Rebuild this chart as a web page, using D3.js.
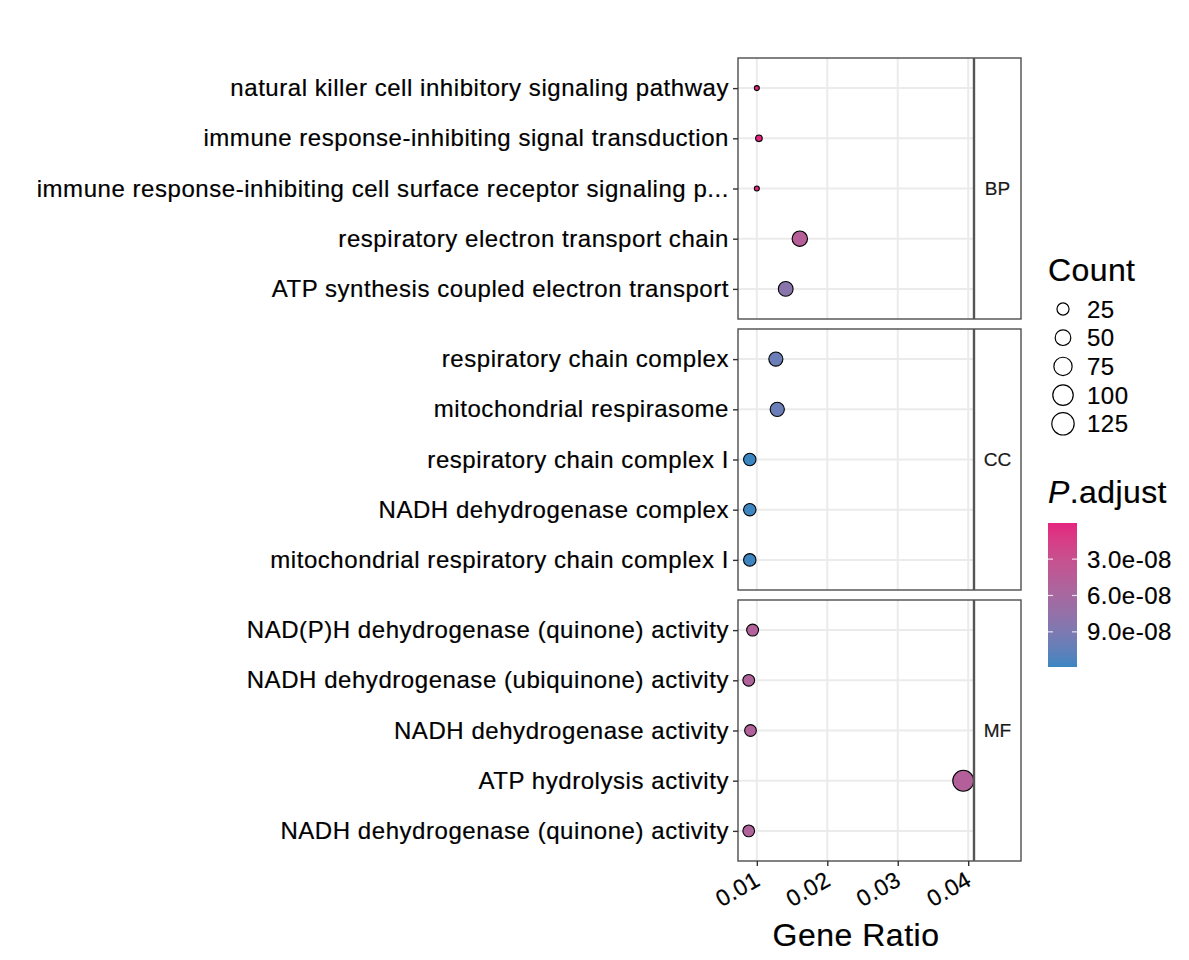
<!DOCTYPE html>
<html>
<head>
<meta charset="utf-8">
<script src="https://cdn.jsdelivr.net/npm/d3@7"></script>
<style>
  body { margin: 0; background: #fff; }
  svg, svg text { font-family: "Liberation Sans", Arial, sans-serif; }
  svg text { stroke: currentColor; stroke-width: 0.2px; }
</style>
</head>
<body>
<svg id="chart" width="1189" height="960"></svg>
<script>
// GO terms, top to bottom within each ontology panel
const ontologies = ['BP', 'CC', 'MF'];
const terms = [
  'natural killer cell inhibitory signaling pathway',
  'immune response-inhibiting signal transduction',
  'immune response-inhibiting cell surface receptor signaling p...',
  'respiratory electron transport chain',
  'ATP synthesis coupled electron transport',
  'respiratory chain complex',
  'mitochondrial respirasome',
  'respiratory chain complex I',
  'NADH dehydrogenase complex',
  'mitochondrial respiratory chain complex I',
  'NAD(P)H dehydrogenase (quinone) activity',
  'NADH dehydrogenase (ubiquinone) activity',
  'NADH dehydrogenase activity',
  'ATP hydrolysis activity',
  'NADH dehydrogenase (quinone) activity'
];
const termOntology = ['BP','BP','BP','BP','BP','CC','CC','CC','CC','CC','MF','MF','MF','MF','MF'];
const geneRatio = [0.0100, 0.0103, 0.0100, 0.0161, 0.0141,
                   0.0127, 0.0129, 0.0090, 0.0090, 0.0090,
                   0.0094, 0.00885, 0.0091, 0.0393, 0.00885];
const counts = [5, 6, 5, 48, 43,
                38, 39, 27, 27, 27,
                24, 23, 23, 107, 23];
const pAdjust = [3e-10, 6e-10, 2e-10, 4.6e-8, 8.2e-8,
                 1.0e-7, 1.0e-7, 1.19e-7, 1.18e-7, 1.18e-7,
                 5.0e-8, 5.2e-8, 5.1e-8, 4.9e-8, 5.2e-8];

const xTicks = [0.01, 0.02, 0.03, 0.04];
const countBreaks = [25, 50, 75, 100, 125];
const pTicks = [3e-8, 6e-8, 9e-8];

const rows = terms.map((t, i) => ({
  term: t, ont: termOntology[i], ratio: geneRatio[i], count: counts[i], p: pAdjust[i]
}));

const svg = d3.select('#chart');
const FONT = '"Liberation Sans", Arial, sans-serif';

// layout
const panelLeft = 738, panelRight = 974, stripRight = 1021;
const panelTop = 58, panelH = 261, panelGap = 10;

// scales
const xExt = d3.extent(geneRatio);
const xPad = (xExt[1] - xExt[0]) * 0.05;
const x = d3.scaleLinear().domain([xExt[0] - xPad, xExt[1] + xPad]).range([panelLeft, panelRight]);

const cMin = d3.min(counts), cMax = d3.max(counts);
const rBase = d3.scaleSqrt().domain([0, cMax - cMin]).range([3, 11]);
const r = c => rBase(c - cMin);

const color = d3.scaleLinear()
  .domain(d3.extent(pAdjust))
  .range(['#E4237F', '#3A86C2'])
  .interpolate(d3.interpolateLab);

ontologies.forEach((ont, k) => {
  const top = panelTop + k * (panelH + panelGap);
  const data = rows.filter(d => d.ont === ont);
  const y = d3.scalePoint().domain(data.map(d => d.term)).range([top, top + panelH]).padding(0.6);
  const g = svg.append('g');

  // grid
  g.selectAll('.vgrid').data(xTicks).enter().append('line')
    .attr('x1', d => x(d)).attr('x2', d => x(d))
    .attr('y1', top).attr('y2', top + panelH)
    .attr('stroke', '#EBEBEB').attr('stroke-width', 2);
  g.selectAll('.hgrid').data(data).enter().append('line')
    .attr('x1', panelLeft).attr('x2', panelRight)
    .attr('y1', d => y(d.term)).attr('y2', d => y(d.term))
    .attr('stroke', '#EBEBEB').attr('stroke-width', 2);

  // points
  g.selectAll('.pt').data(data).enter().append('circle')
    .attr('cx', d => x(d.ratio)).attr('cy', d => y(d.term))
    .attr('r', d => r(d.count) - 0.5)
    .attr('fill', d => color(d.p))
    .attr('stroke', '#000').attr('stroke-width', 1.1);

  // panel + strip borders
  g.append('rect').attr('x', panelLeft).attr('y', top)
    .attr('width', stripRight - panelLeft).attr('height', panelH)
    .attr('fill', 'none').attr('stroke', '#4D4D4D').attr('stroke-width', 1.4);
  g.append('line').attr('x1', panelRight).attr('x2', panelRight)
    .attr('y1', top).attr('y2', top + panelH)
    .attr('stroke', '#555').attr('stroke-width', 2.4);
  g.append('text').attr('x', (panelRight + stripRight) / 2).attr('y', top + panelH / 2)
    .attr('text-anchor', 'middle').attr('dominant-baseline', 'central')
    .attr('font-size', 19).attr('fill', '#1A1A1A').style('color', '#1A1A1A').text(ont);

  // y axis
  const yAxis = d3.axisLeft(y).tickSize(5).tickPadding(4);
  const ya = g.append('g').attr('transform', `translate(${panelLeft},0)`).call(yAxis)
    .attr('font-family', FONT);
  ya.select('.domain').remove();
  ya.selectAll('line').attr('stroke', '#333').attr('stroke-width', 1.4);
  ya.selectAll('text').attr('font-size', 24).attr('letter-spacing', 0.55)
    .attr('fill', '#000').style('color', '#000');

  if (k === ontologies.length - 1) {
    const xAxis = d3.axisBottom(x).tickValues(xTicks).tickSize(5).tickFormat(d3.format('.2f'));
    const xa = g.append('g').attr('transform', `translate(0,${top + panelH})`).call(xAxis)
      .attr('font-family', FONT);
    xa.select('.domain').remove();
    xa.selectAll('line').attr('stroke', '#333').attr('stroke-width', 1.4);
    xa.selectAll('text')
      .attr('font-size', 23).attr('letter-spacing', 0.4)
      .attr('fill', '#000').style('color', '#000')
      .attr('text-anchor', 'end')
      .attr('transform', 'translate(-4,9) rotate(-30)')
      .attr('y', 0).attr('dy', '0.72em');
  }
});

// x title
svg.append('text').attr('x', (panelLeft + panelRight) / 2).attr('y', 946)
  .attr('text-anchor', 'middle').attr('font-size', 32).attr('letter-spacing', 0.5)
  .attr('fill', '#000').style('color', '#000').text('Gene Ratio');

// size legend
const lg = svg.append('g').style('color', '#000');
lg.append('text').attr('x', 1048).attr('y', 281).attr('font-size', 32).attr('letter-spacing', 0.4).text('Count');
lg.selectAll('.lc').data(countBreaks).enter().append('circle')
  .attr('cx', 1063).attr('cy', (d, i) => 309 + i * 28.7)
  .attr('r', d => r(d) - 0.5)
  .attr('fill', 'none').attr('stroke', '#000').attr('stroke-width', 1.2);
lg.selectAll('.lt').data(countBreaks).enter().append('text')
  .attr('x', 1087).attr('y', (d, i) => 309 + i * 28.7)
  .attr('dominant-baseline', 'central').attr('font-size', 24).attr('letter-spacing', 0.5).text(d => d);

// colour legend
const barTop = 523, barBottom = 667, barX = 1048, barW = 29;
const pScale = d3.scaleLinear().domain(d3.extent(pAdjust)).range([barTop, barBottom]);
const grad = svg.append('defs').append('linearGradient').attr('id', 'pgrad')
  .attr('x1', 0).attr('y1', 0).attr('x2', 0).attr('y2', 1);
d3.range(0, 1.0001, 0.05).forEach(t => {
  const v = pScale.invert(barTop + t * (barBottom - barTop));
  grad.append('stop').attr('offset', t).attr('stop-color', color(v));
});
const cl = svg.append('g').style('color', '#000');
const title = cl.append('text').attr('x', 1048).attr('y', 503).attr('font-size', 32).attr('letter-spacing', 0.4);
title.append('tspan').attr('font-style', 'italic').text('P');
title.append('tspan').text('.adjust');
cl.append('rect').attr('x', barX).attr('y', barTop).attr('width', barW).attr('height', barBottom - barTop)
  .attr('fill', 'url(#pgrad)');
pTicks.forEach(v => {
  cl.append('line').attr('x1', barX).attr('x2', barX + 5).attr('y1', pScale(v)).attr('y2', pScale(v))
    .attr('stroke', '#fff').attr('stroke-opacity', 0.8).attr('stroke-width', 1.2);
  cl.append('line').attr('x1', barX + barW - 5).attr('x2', barX + barW).attr('y1', pScale(v)).attr('y2', pScale(v))
    .attr('stroke', '#fff').attr('stroke-opacity', 0.8).attr('stroke-width', 1.2);
});
cl.selectAll('.ptk').data(pTicks).enter().append('text')
  .attr('x', 1087).attr('y', d => pScale(d))
  .attr('dominant-baseline', 'central').attr('font-size', 24).attr('letter-spacing', 0.5)
  .text(d => d3.format('.1e')(d).replace('e-8', 'e-08'));
</script>
</body>
</html>
